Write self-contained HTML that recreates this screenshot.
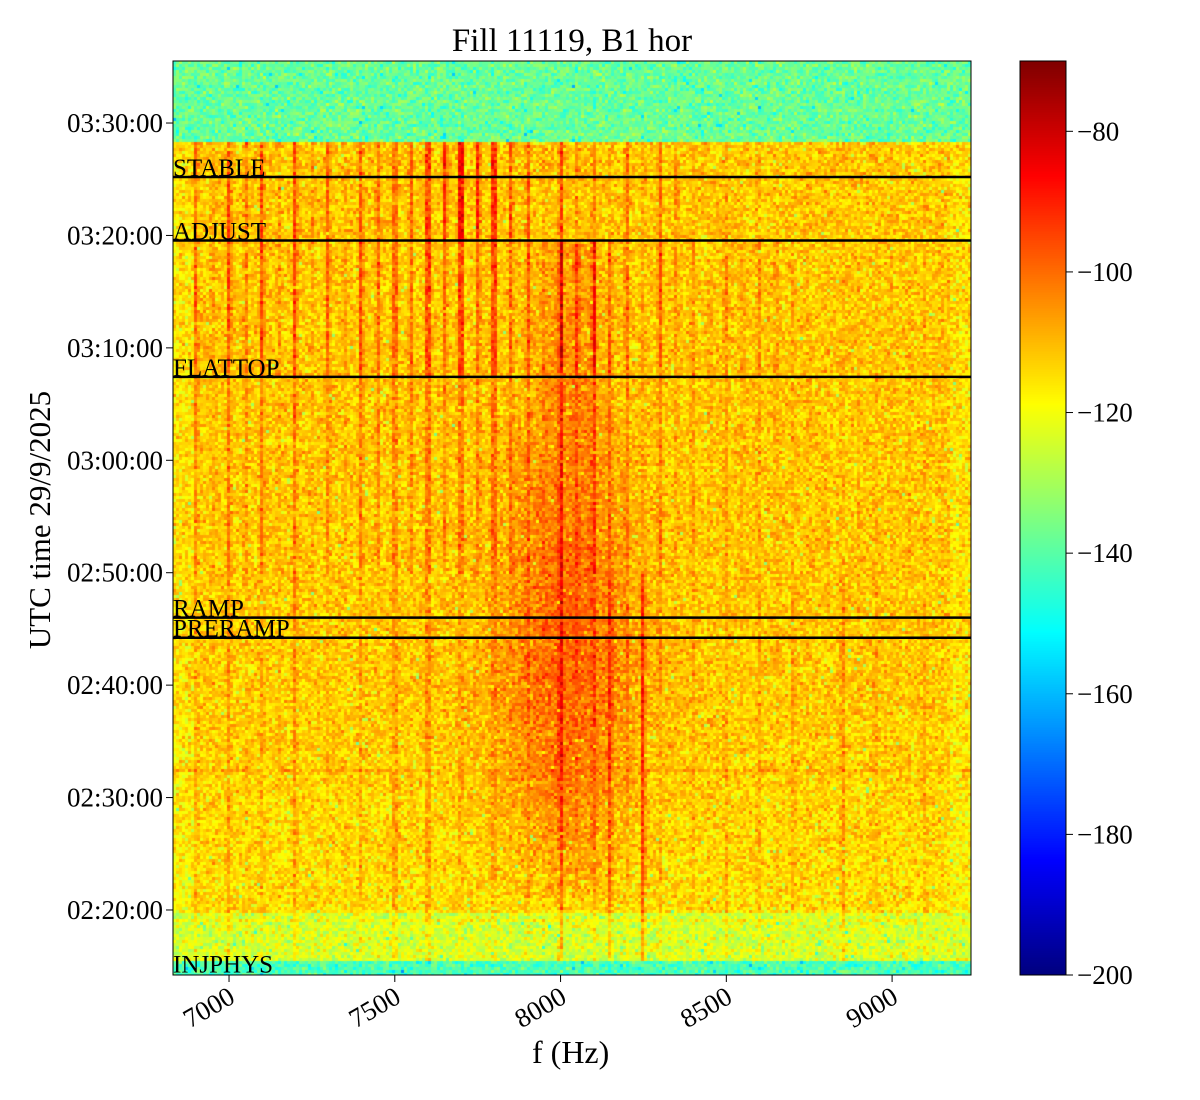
<!DOCTYPE html>
<html><head><meta charset="utf-8"><style>
body{margin:0;background:#fff;}
#wrap{position:relative;width:1200px;height:1100px;overflow:hidden;font-family:"Liberation Serif",serif;}
canvas{position:absolute;}
.t{position:absolute;white-space:nowrap;color:#000;}
</style></head><body>
<div id="wrap">
<div class="t" style="left:0;width:1144px;top:23px;text-align:center;font-size:33px;">Fill 11119, B1 hor</div>
<canvas id="spec" width="798" height="914" style="left:173px;top:61px;"></canvas>
<canvas id="cbar" width="46" height="914" style="left:1020px;top:61px;"></canvas>
<svg id="ov" width="1200" height="1100" style="position:absolute;left:0;top:0;"></svg>
<div class="t" style="left:532px;top:1034px;font-size:32px;">f (Hz)</div>
<div class="t" style="left:40px;top:520px;font-size:31px;transform:translate(-50%,-50%) rotate(-90deg);">UTC time 29/9/2025</div>
</div>
<script>
// ---- data ----
const fMin = 6831, fMax = 9238;
const tTop = 12931, tBot = 8053; // seconds since midnight
const vMin = -200, vMax = -70;
const xTicks = [7000, 7500, 8000, 8500, 9000];
const yTickTimes = ["02:20:00","02:30:00","02:40:00","02:50:00","03:00:00","03:10:00","03:20:00","03:30:00"];
const cbTicks = [-80, -100, -120, -140, -160, -180, -200];
const eventNames = ["STABLE","ADJUST","FLATTOP","RAMP","PRERAMP","INJPHYS"];
const eventTimes = ["03:25:12","03:19:33","03:07:25","02:46:00","02:44:13","02:14:20"];
const dataTopTime = "03:28:13";
const greenBandTime = "02:19:40";
const cyanBandTime = "02:15:22";
const bgLevels = [-142, -124, -112, -138]; // bottom cyan, lower green, main, top
const harmonicFreqs = [6900,6950,7000,7050,7100,7150,7200,7250,7300,7350,7400,7450,7500,7550,7600,7650,7700,7750,7800,7850,7900,7950,8000,8050,8100,8150,8200,8250,8300,8350,8400,8450,8500,8550,8600,8650,8700,8750,8800,8850,8900,8950,9000,9050,9100,9150];
const strengthP1 = [12,5,16,10,16,6,16,5,12,5,16,12,12,13,17,20,26,21,19,15,14,5,16,6,9,4,12,4,13,8,4,1,4,1,4,1,1,1,1,1,1,1,1,1,1,1];
const strengthP2 = [12,5,16,10,16,6,16,5,12,5,16,12,12,12,16,12,16,12,16,12,12,5,24,12,21,12,12,5,15,5,8,3,8,3,8,3,4,2,2,2,2,2,2,2,2,2];
const strengthP3 = [8,3,10,6,10,3,10,3,8,3,10,8,8,8,10,8,10,8,10,8,8,3,14,6,12,7,7,3,9,3,5,2,5,2,5,2,2,2,2,2,2,2,2,2,2,2];
const strengthP4 = [4,1,7,2,4,1,8,1,3,1,6,1,6,1,7,1,4,1,4,1,4,1,13,3,7,12,4,17,4,1,4,1,5,1,5,1,5,1,1,8,1,4,1,1,4,1];
const periodTimes = ["03:28:13","03:19:33","03:07:25","02:50:00","02:15:22"];
const blobTimes = ["02:21:00","02:30:00","02:40:00","02:46:00","03:00:00","03:10:00","03:19:30"];
const blobAmp = [4,10,13,13,9,7,6];
const blobWidth = [110,140,150,140,110,80,60];
const blobCenter = 8020;
const hLineTimes = ["02:32:20","02:19:10"];
const hLineAmp = [5,4];

function ts(s){const p=s.split(':').map(Number);return p[0]*3600+p[1]*60+p[2];}
const X0=173,X1=971,Y0=61,Y1=975;
function xOf(f){return X0+(f-fMin)/(fMax-fMin)*(X1-X0);}
function yOf(t){return Y0+(tTop-t)/(tTop-tBot)*(Y1-Y0);}
function fOfX(x){return fMin+(x-X0)/(X1-X0)*(fMax-fMin);}
function tOfY(y){return tTop-(y-Y0)/(Y1-Y0)*(tTop-tBot);}
function jet(x){x=Math.max(0,Math.min(1,x));
 const c=v=>Math.round(255*Math.max(0,Math.min(1,v)));
 return [c(1.5-Math.abs(4*x-3)),c(1.5-Math.abs(4*x-2)),c(1.5-Math.abs(4*x-1))];}
function hash(i,j,k){let h=(i*374761393+j*668265263+k*2147483647)|0;h=(h^(h>>>13))*1274126177|0;h^=h>>>16;return (h>>>0)/4294967296;}
function interp(ts_,vals,t){if(t<=ts_[0])return vals[0];for(let i=1;i<ts_.length;i++){if(t<=ts_[i]){const a=(t-ts_[i-1])/(ts_[i]-ts_[i-1]);return vals[i-1]+a*(vals[i]-vals[i-1]);}}return vals[vals.length-1];}

// ---- spectrogram ----
const cv=document.getElementById('spec'),ctx=cv.getContext('2d');
const CW=3,CH=3;
const pT=periodTimes.map(ts),bT=blobTimes.map(ts),hT=hLineTimes.map(ts);
const tDT=ts(dataTopTime),tG=ts(greenBandTime),tC=ts(cyanBandTime);
for(let j=0;j*CH<914;j++){
 const t=tOfY(Y0+j*CH+CH/2);
 for(let i=0;i*CW<798;i++){
  const f=fOfX(X0+i*CW+CW/2);
  let v; let active=true;
  if(t>tDT){v=bgLevels[3];active=false;}
  else if(t<tC){v=bgLevels[0];active=false;}
  else if(t<tG){v=bgLevels[1];}
  else {v=bgLevels[2];
   const edge=Math.min(f-fMin,fMax-f);
   if(edge<60)v-=3;
   if(t<ts("02:40:00")) v-= (ts("02:40:00")-t)/1200*3;
  }
  if(active){
   let arr;
   if(t>pT[1])arr=strengthP1;else if(t>pT[2])arr=strengthP2;else if(t>pT[3])arr=strengthP3;else arr=strengthP4;
   for(let k=0;k<harmonicFreqs.length;k++){const d=Math.abs(f-harmonicFreqs[k]);if(d<5.5){v+=arr[k];}else if(d<9){v+=arr[k]*0.3;}}
   if(t>=bT[0]&&t<=bT[bT.length-1]){
    const A=interp(bT,blobAmp,t),W=interp(bT,blobWidth,t);
    v+=A*Math.exp(-0.5*Math.pow((f-blobCenter)/W,2));
   }
   for(let k=0;k<hT.length;k++){if(Math.abs(t-hT[k])<8)v+=hLineAmp[k];}
  }
  const n=(hash(i,j,1)+hash(i,j,2)+hash(i,j,3)-1.5)*11;
  v+=n;
  if(hash(i,j,7)<0.015)v-=14;
  const c=jet((v-vMin)/(vMax-vMin));
  ctx.fillStyle=`rgb(${c[0]},${c[1]},${c[2]})`;
  ctx.fillRect(i*CW,j*CH,CW,CH);
 }
}
// ---- colorbar ----
const cb=document.getElementById('cbar').getContext('2d');
for(let y=0;y<914;y++){const c=jet(1-y/913);cb.fillStyle=`rgb(${c[0]},${c[1]},${c[2]})`;cb.fillRect(0,y,46,1);}

// ---- overlay ----
const ov=document.getElementById('ov');const NS='http://www.w3.org/2000/svg';
function mk(tag,attrs,txt){const e=document.createElementNS(NS,tag);for(const k in attrs)e.setAttribute(k,attrs[k]);if(txt!==undefined)e.textContent=txt;ov.appendChild(e);return e;}
eventNames.forEach((nm,i)=>{
 const y=yOf(ts(eventTimes[i]));
 if(y<Y1-2){const l=mk('line',{x1:X0,x2:X1,y1:y,y2:y,stroke:'#000','stroke-width':2.5});
 
 }
 const tx=mk('text',{x:X0,y:Math.min(y,Y1)-1,'font-family':'Liberation Serif, serif','font-size':25},nm);
 
 
});
const fr=mk('rect',{x:X0,y:Y0,width:X1-X0,height:Y1-Y0,fill:'none',stroke:'#000','stroke-width':1});


const cfr=mk('rect',{x:1020,y:Y0,width:46,height:914,fill:'none',stroke:'#000','stroke-width':1});


xTicks.forEach(f=>{const x=xOf(f);
 const l=mk('line',{x1:x,x2:x,y1:Y1,y2:Y1+7,stroke:'#000'});
 
 
 const ax=x-2, ay=Y1+10;
 const t=mk('text',{x:ax,y:ay,'text-anchor':'end','font-family':'Liberation Serif, serif','font-size':27,transform:`rotate(-30 ${ax} ${ay})`,'dominant-baseline':'hanging'},String(f));
 
 
});
yTickTimes.forEach(s=>{const y=yOf(ts(s));
 const l=mk('line',{x1:X0-7,x2:X0,y1:y,y2:y,stroke:'#000'});
 
 
 const t=mk('text',{x:X0-10,y:y+9,'text-anchor':'end','font-family':'Liberation Serif, serif','font-size':27},s);
 
 
});
cbTicks.forEach(v=>{const y=Y0+(vMax-v)/(vMax-vMin)*914;
 const l=mk('line',{x1:1066,x2:1073,y1:y,y2:y,stroke:'#000'});
 
 
 const t=mk('text',{x:1077,y:y+9,'font-family':'Liberation Serif, serif','font-size':27},'\u2212'+Math.abs(v));
 
 
});
</script>
</body></html>
